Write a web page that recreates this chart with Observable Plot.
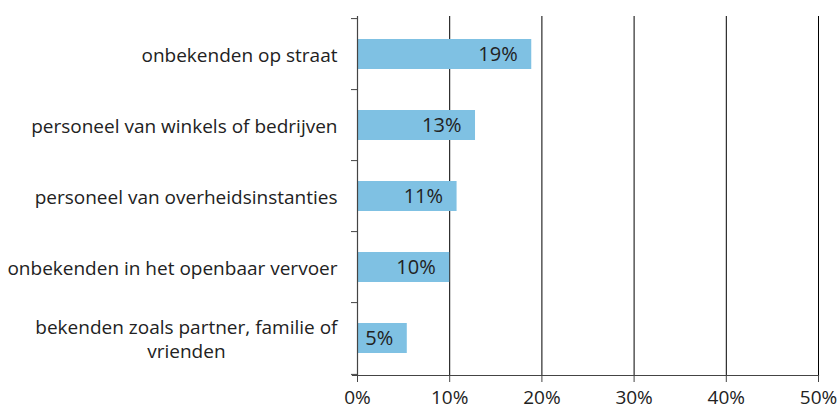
<!DOCTYPE html>
<html><head><meta charset="utf-8">
<script src="https://cdn.jsdelivr.net/npm/d3@7"></script>
<script src="https://cdn.jsdelivr.net/npm/@observablehq/plot@0.6"></script>
<style>body{margin:0;background:#fff}</style>
</head><body><div id="chart"></div>
<script>
const categories = [
  "onbekenden op straat",
  "personeel van winkels of bedrijven",
  "personeel van overheidsinstanties",
  "onbekenden in het openbaar vervoer",
  "bekenden zoals partner, familie of vrienden"
];
const tickLabels = [
  "onbekenden op straat",
  "personeel van winkels of bedrijven",
  "personeel van overheidsinstanties",
  "onbekenden in het openbaar vervoer",
  "bekenden zoals partner, familie of\nvrienden"
];
const values = [18.9, 12.8, 10.8, 10.0, 5.4];
const valueLabels = ["19%", "13%", "11%", "10%", "5%"];
const xTicks = [0, 10, 20, 30, 40, 50];

const data = categories.map((c, i) => ({category: c, value: values[i], label: valueLabels[i]}));
const labelOf = new Map(categories.map((c, i) => [c, tickLabels[i]]));

const W = 840, H = 410, mL = 357, mR = 22, mT = 16, mB = 35;
const step = (H - mT - mB) / categories.length;
const font = "Open Sans";

const plot = Plot.plot({
  width: W, height: H,
  marginLeft: mL, marginRight: mR, marginTop: mT, marginBottom: mB,
  style: {fontFamily: font, fontSize: "18px", color: "#222", background: "#fff"},
  x: {domain: [0, 50], label: null},
  y: {domain: categories, paddingInner: 0.58, paddingOuter: 0.29, label: null},
  marks: [
    Plot.ruleX(xTicks.slice(1), {stroke: "#000", strokeWidth: 1}),
    Plot.barX(data, {x: "value", y: "category", fill: "#7fc1e3"}),
    Plot.text(data, {x: "value", y: "category", text: "label", textAnchor: "end", dx: -14, fill: "#222", fontSize: 20, letterSpacing: 0.5}),
    Plot.ruleX([0], {stroke: "#444", strokeWidth: 1.2}),
    Plot.frame({anchor: "bottom", stroke: "#444", strokeWidth: 1.2, insetLeft: -5}),
    Plot.ruleY(categories, {y: d => d, x1: 0, x2: 0, insetLeft: -6, dy: -step / 2, stroke: "#444"}),
    Plot.ruleY(categories.slice(-1), {y: d => d, x1: 0, x2: 0, insetLeft: -6, dy: step / 2, stroke: "#444"}),
    Plot.axisX({ticks: xTicks, tickFormat: d => d + "%", tickSize: 7, tickPadding: 8, stroke: "#444", fill: "#222", fontSize: 19, label: null}),
    Plot.axisY({tickSize: 0, tickPadding: 20, tickFormat: d => labelOf.get(d), fill: "#222", fontSize: 19, lineHeight: 1.25, label: null})
  ]
});
document.getElementById("chart").appendChild(plot);

// center-align wrapped tick labels like the original
plot.querySelectorAll("[aria-label='y-axis tick label'] text").forEach(t => {
  const spans = t.querySelectorAll("tspan");
  if (spans.length > 1) {
    const w = Math.max(...Array.from(spans, s => s.getComputedTextLength()));
    t.setAttribute("text-anchor", "middle");
    const tr = t.getAttribute("transform") || "";
    t.setAttribute("transform", tr + ` translate(${-w / 2},0)`);
  }
});
</script>
</body></html>
